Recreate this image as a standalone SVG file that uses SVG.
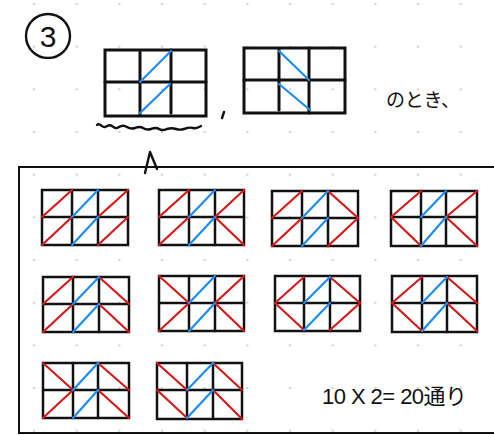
<svg xmlns="http://www.w3.org/2000/svg" width="494" height="435" viewBox="0 0 494 435">
<defs>
<pattern id="dots" x="34" y="4" width="42.67" height="42.67" patternUnits="userSpaceOnUse">
<circle cx="0" cy="0" r="1.1" fill="#c6c6c6"/>
<circle cx="42.67" cy="0" r="1.1" fill="#c6c6c6"/>
<circle cx="0" cy="42.67" r="1.1" fill="#c6c6c6"/>
<circle cx="42.67" cy="42.67" r="1.1" fill="#c6c6c6"/>
</pattern>
</defs>
<style>
.f{fill:none;stroke:#111;stroke-width:2.5;stroke-linecap:round}
.ft{fill:none;stroke:#111;stroke-width:3;stroke-linecap:round}
.r{stroke:#d61a1a;stroke-width:2.2;stroke-linecap:round}
.b{stroke:#1e8cf5;stroke-width:2.2;stroke-linecap:round}
.hand{fill:none;stroke:#111;stroke-width:2.4;stroke-linecap:round;stroke-linejoin:round}
.t{font-family:"Liberation Sans","Noto Sans CJK JP",sans-serif;fill:#111}
</style>
<rect width="494" height="435" fill="#fff"/>
<rect width="494" height="435" fill="url(#dots)"/>

<g id="label-3">
<circle cx="48" cy="36" r="22" class="hand"/>
<text x="48" y="47" text-anchor="middle" class="t" font-size="30">3</text>
</g>

<g id="gridA">
<rect x="105" y="50" width="101" height="66" class="ft"/>
<path d="M105 82H206M140 52V114M171 50V113" class="ft"/>
<line x1="140" y1="82" x2="171" y2="51" class="b"/>
<line x1="140" y1="113" x2="170" y2="84" class="b"/>
</g>
<g id="wave">
<path d="M97 125c3 -3 5 3 8 2s4-3 7-1 4 3 7 1 5-2 8 0 5 2 8 1 5-2 8 0 5 2 8 1 5-2 8 0 5 1 8 0 6-1 9 0 5 1 8 0 6-2 9-1 6-1 8-2" class="hand" stroke-width="2"/>
<path d="M224 112L222 118" class="hand"/>
</g>
<g id="gridB">
<rect x="244" y="48" width="101" height="65" class="ft"/>
<path d="M244 80H345M279 50V110M309 48V113" class="ft"/>
<line x1="279" y1="51" x2="309" y2="80" class="b"/>
<line x1="279" y1="84" x2="310" y2="110" class="b"/>
</g>
<g id="caption">
<text x="386" y="107" class="t" font-size="19" font-family="Noto Sans CJK JP" textLength="74" lengthAdjust="spacing">のとき、</text>
</g>
<g id="caret">
<path d="M145 173L150 152L157 169" class="hand" stroke-width="2.2"/>
</g>

<g id="box">
<rect x="19" y="167" width="480" height="266" fill="none" stroke="#111" stroke-width="2"/>
</g>

<g id="g1">
<rect x="42" y="190" width="86" height="55" class="f"/>
<path d="M42 217H128M72 190V245M98 190V245" class="f"/>
<path d="M42 217L72 190M98 217L128 190M42 245L72 217M98 245L128 217" class="r"/>
<path d="M72 217L98 190M72 245L98 217" class="b"/>
</g>
<g id="g2">
<rect x="159" y="190" width="85" height="55" class="f"/>
<path d="M159 217H244M189 190V245M215 190V245" class="f"/>
<path d="M159 217L189 190M215 217L244 190M159 245L189 217M215 217L244 245" class="r"/>
<path d="M189 217L215 190M189 245L215 217" class="b"/>
</g>
<g id="g3">
<rect x="272" y="191" width="86" height="55" class="f"/>
<path d="M272 218H358M302 191V246M328 191V246" class="f"/>
<path d="M272 218L302 191M328 191L358 218M272 246L302 218M328 246L358 218" class="r"/>
<path d="M302 218L328 191M302 246L328 218" class="b"/>
</g>
<g id="g4">
<rect x="391" y="191" width="86" height="55" class="f"/>
<path d="M391 217H477M421 191V246M446 191V246" class="f"/>
<path d="M391 217L421 191M391 217L421 246M446 217L477 191M446 217L477 246" class="r"/>
<path d="M421 217L446 191M421 246L446 217" class="b"/>
</g>

<g id="g5">
<rect x="43" y="277" width="86" height="55" class="f"/>
<path d="M43 304H129M73 277V332M99 277V332" class="f"/>
<path d="M43 304L73 277M99 277L129 304M43 332L73 304M99 304L129 332" class="r"/>
<path d="M73 304L99 277M73 332L99 304" class="b"/>
</g>
<g id="g6">
<rect x="159" y="276" width="85" height="55" class="f"/>
<path d="M159 303H244M189 276V331M215 276V331" class="f"/>
<path d="M159 276L189 303M159 331L189 303M215 303L244 276M215 303L244 331" class="r"/>
<path d="M189 303L215 276M189 331L215 303" class="b"/>
</g>
<g id="g7">
<rect x="275" y="276" width="85" height="55" class="f"/>
<path d="M275 303H360M304 276V331M330 276V331" class="f"/>
<path d="M275 303L304 277M275 303L304 330M330 277L360 303M330 330L360 303" class="r"/>
<path d="M304 303L330 277M304 330L330 303" class="b"/>
</g>
<g id="g8">
<rect x="392" y="276" width="85" height="56" class="f"/>
<path d="M392 303H477M422 276V332M447 276V332" class="f"/>
<path d="M392 303L422 277M392 303L422 331M447 277L477 303M447 303L477 331" class="r"/>
<path d="M422 303L447 277M422 331L447 303" class="b"/>
</g>

<g id="g9">
<rect x="43" y="363" width="86" height="55" class="f"/>
<path d="M43 390H129M73 363V418M98 363V418" class="f"/>
<path d="M43 363L73 390M43 418L73 390M98 363L129 390M98 390L129 418" class="r"/>
<path d="M73 390L98 363M73 418L98 390" class="b"/>
</g>
<g id="g10">
<rect x="157" y="363" width="85" height="56" class="f"/>
<path d="M157 390H242M187 363V419M213 363V419" class="f"/>
<path d="M157 363L187 390M157 390L187 418M213 363L242 390M213 390L242 419" class="r"/>
<path d="M187 390L213 363M187 418L213 390" class="b"/>
</g>

<g id="result">
<text x="322" y="404" class="t" font-size="22" textLength="145" lengthAdjust="spacing">10 X 2= 20通り</text>
</g>
<g id="connectors"/>
</svg>
